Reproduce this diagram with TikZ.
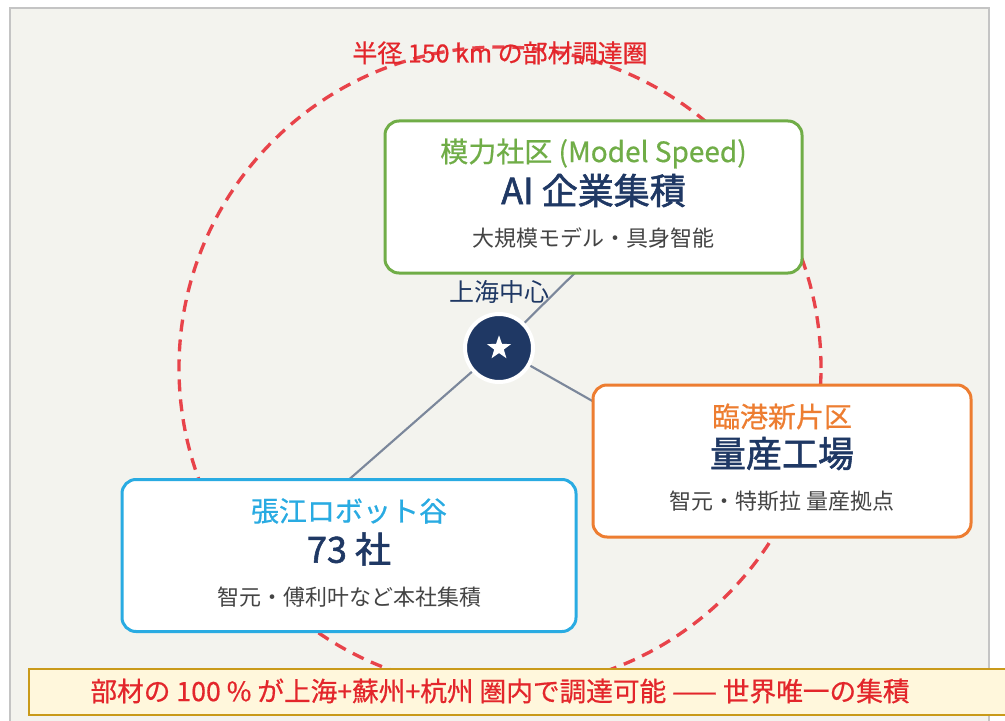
\documentclass[tikz,border=0pt]{standalone}
\usepackage{fontspec}
\setmainfont{Noto Sans CJK JP}
\newfontfamily\semib{Noto Sans CJK JP}[FakeBold=1.6]
\newfontfamily\lightb{Noto Sans CJK JP}[FakeBold=0.6]
\usetikzlibrary{shapes.geometric,backgrounds,calc}
\definecolor{bgc}{HTML}{F3F3EE}
\definecolor{framec}{HTML}{C4C4C4}
\definecolor{redc}{HTML}{E8434A}
\definecolor{redtxt}{HTML}{E3262B}
\definecolor{greenc}{HTML}{70AD47}
\definecolor{orangec}{HTML}{ED7D31}
\definecolor{bluec}{HTML}{29ABE2}
\definecolor{navyc}{HTML}{1F3864}
\definecolor{grayc}{HTML}{444444}
\definecolor{linec}{HTML}{7B879B}
\definecolor{bannerfill}{HTML}{FFF7DC}
\definecolor{bannerdraw}{HTML}{C99A1A}
\begin{document}
\begin{tikzpicture}[x=0.75pt,y=-0.75pt,
  box/.style={draw, line width=2.25pt, rounded corners=10.5pt, fill=white,
    minimum height=114pt, inner sep=0pt},
  subtxt/.style={font=\fontsize{21pt}{24pt}\lightb},
  maintxt/.style={font=\fontsize{27pt}{30pt}\semib, text=navyc},
  desctxt/.style={font=\fontsize{16.5pt}{19pt}\selectfont, text=grayc},
  link/.style={draw=linec, line width=1.6pt},
  ring/.style={draw=redc, line width=2.5pt, dash pattern=on 9pt off 6pt}
]
\useasboundingbox (0,0) rectangle (1005,720);

% boxes
\node[box, draw=greenc, minimum width=312.75pt] (g) at (593.5,197) {};
\node[subtxt, text=greenc] (gs) at ($(g.north)+(0,34)$) {模力社区 (Model Speed)};
\node[maintxt] (gm) at ($(g.north)+(0,71)$) {AI 企業集積};
\node[desctxt] (gd) at ($(g.north)+(0,119)$) {大規模モデル・具身智能};

\node[box, draw=orangec, minimum width=283.5pt] (o) at (782,461) {};
\node[subtxt, text=orangec] (os) at ($(o.north)+(0,33)$) {臨港新片区};
\node[maintxt] (om) at ($(o.north)+(0,70)$) {量産工場};
\node[desctxt] (od) at ($(o.north)+(0,118)$) {智元・特斯拉 量産拠点};

\node[box, draw=bluec, minimum width=340.5pt] (b) at (349,555.5) {};
\node[subtxt, text=bluec] (bs) at ($(b.north)+(0,33)$) {張江ロボット谷};
\node[maintxt] (bm) at ($(b.north)+(0,71)$) {73 社};
\node[desctxt] (bd) at ($(b.north)+(0,119)$) {智元・傅利叶など本社集積};

% centre
\node[circle, fill=navyc, draw=white, line width=3pt, minimum size=51pt, inner sep=0pt] (c) at (499,348) {};
\node[star, star points=5, star point ratio=2.5, fill=white, minimum size=19pt, inner sep=0pt] (cs) at (c) {};
\node[font=\fontsize{18.75pt}{21pt}\selectfont, text=navyc] (cl) at (499,292) {上海中心};

\coordinate (gT) at (592,256);
\coordinate (oT) at (640,428);
\coordinate (bT) at (345,483);

% title
\node[font=\fontsize{18.75pt}{21pt}\lightb, text=redtxt] (title) at (500,53) {半径 150 km の部材調達圏};

% banner
\node[draw=bannerdraw, line width=1.5pt, fill=bannerfill, minimum width=737pt, minimum height=34.5pt,
  anchor=north west, inner sep=0pt] (ban) at (28,668) {};
\node[font=\fontsize{20pt}{22pt}\lightb, text=redtxt] (bantxt) at (500,691)
  {部材の 100 \% が上海+蘇州+杭州 圏内で調達可能 —— 世界唯一の集積};

\begin{scope}[on background layer]
  \fill[white] (0,0) rectangle (1005,720);
  \draw[fill=bgc, draw=framec, line width=1.2pt] (10,8) rectangle (989,740);
  \draw[ring] (500,368) circle[radius=240.75pt];
  \draw[link] (c.center) -- (gT);
  \draw[link] (c.center) -- (oT);
  \draw[link] (c.center) -- (bT);
\end{scope}
\end{tikzpicture}
\end{document}
